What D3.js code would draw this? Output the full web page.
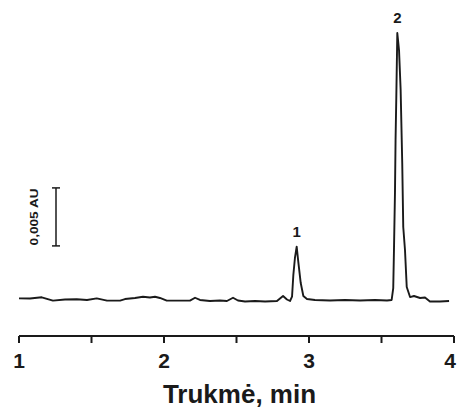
<!DOCTYPE html>
<html>
<head>
<meta charset="utf-8">
<script src="https://cdn.jsdelivr.net/npm/d3@7"></script>
<style>
  html, body { margin: 0; padding: 0; background: #fff; }
  svg { display: block; font-family: "Liberation Sans", Arial, sans-serif; }
</style>
</head>
<body>
<svg id="chart" width="458" height="412"></svg>
<script>
// Retention time (min) and detector response (mAU) of the chromatogram trace
const timeMin = [
  1.000, 1.076, 1.157, 1.234, 1.317, 1.398, 1.469, 1.536, 1.607, 1.697,
  1.731, 1.800, 1.855, 1.903, 1.938, 1.972, 2.019, 2.097, 2.179, 2.214,
  2.248, 2.317, 2.386, 2.434, 2.476, 2.510, 2.559, 2.628, 2.697, 2.779,
  2.821, 2.848, 2.869, 2.883, 2.892, 2.903, 2.915, 2.926, 2.943, 2.961,
  2.986, 3.041, 3.145, 3.248, 3.352, 3.455, 3.538, 3.570, 3.581, 3.586,
  3.593, 3.597, 3.602, 3.609, 3.621, 3.632, 3.643, 3.650, 3.662, 3.674,
  3.697, 3.724, 3.766, 3.800, 3.834, 3.903, 3.966
];
const absorbanceMAU = [
  0.23, 0.22, 0.32, 0.03, 0.13, 0.15, 0.09, 0.23, 0.03, 0.03,
  0.17, 0.26, 0.37, 0.30, 0.37, 0.26, 0.03, 0.03, 0.03, 0.28,
  0.09, 0.00, 0.04, 0.00, 0.28, 0.04, -0.04, 0.00, -0.04, 0.00,
  0.43, 0.13, 0.00, 0.37, 2.24, 3.71, 4.68, 3.39, 1.55, 0.43,
  0.17, 0.09, 0.04, 0.09, 0.04, 0.09, 0.04, 0.09, 1.12, 4.40,
  9.40, 13.9, 17.5, 23.1, 21.6, 18.2, 11.9, 6.38, 4.40, 1.21,
  0.34, 0.43, 0.26, 0.30, -0.04, -0.04, 0.00
];

// Numbered peaks
const peakLabels = ["1", "2"];
const peakTimes = [2.915, 3.609];
const peakHeights = [4.68, 23.1];

// Axis ticks
const majorTicks = [1, 2, 3, 4];
const minorTicks = [1.5, 2.5, 3.5];

// Vertical scale bar (mAU)
const scaleBarRange = [4.75, 9.75];
const scaleBarLabel = "0,005 AU";
const xTitle = "Trukmė, min";

const svg = d3.select("#chart");
const ink = "#1a1a1a";
const width = 458;

const x = d3.scaleLinear().domain([1, 4]).range([19, 454]);
const y = d3.scaleLinear().domain([0, 25]).range([301, 11]);

// Trace
const line = d3.line()
  .x((d, i) => x(timeMin[i]))
  .y(d => y(d));

svg.append("path")
  .datum(absorbanceMAU)
  .attr("d", line)
  .attr("fill", "none")
  .attr("stroke", ink)
  .attr("stroke-width", 1.9)
  .attr("stroke-linejoin", "round");

// Peak numbers
svg.selectAll("text.peak")
  .data(peakLabels)
  .join("text")
  .attr("class", "peak")
  .attr("x", (d, i) => x(peakTimes[i]))
  .attr("y", (d, i) => y(peakHeights[i]) - 10)
  .attr("text-anchor", "middle")
  .attr("font-size", 15)
  .attr("font-weight", "bold")
  .attr("fill", ink)
  .text(d => d);

// Time axis
const axisY = 336;
const axis = svg.append("g").attr("transform", `translate(0,${axisY})`);
axis.append("line")
  .attr("x1", x(1)).attr("x2", x(4))
  .attr("stroke", ink).attr("stroke-width", 2);

axis.selectAll("line.tick")
  .data(majorTicks.concat(minorTicks))
  .join("line")
  .attr("class", "tick")
  .attr("x1", d => x(d)).attr("x2", d => x(d))
  .attr("y1", 0).attr("y2", 7)
  .attr("stroke", ink).attr("stroke-width", 2);

// Tick labels, the last one kept inside the right edge
axis.selectAll("text.tl")
  .data(majorTicks)
  .join("text")
  .attr("class", "tl")
  .attr("x", d => Math.min(x(d), width - 8))
  .attr("y", 32)
  .attr("text-anchor", "middle")
  .attr("font-size", 21)
  .attr("font-weight", "bold")
  .attr("fill", ink)
  .text(d => d);

svg.append("text")
  .attr("x", (x(1) + x(4)) / 2 + 3)
  .attr("y", 403)
  .attr("text-anchor", "middle")
  .attr("font-size", 26)
  .attr("font-weight", "bold")
  .attr("fill", ink)
  .text(xTitle);

// Scale bar
const barX = 56;
const bar = svg.append("g");
bar.append("line")
  .attr("x1", barX).attr("x2", barX)
  .attr("y1", y(scaleBarRange[0])).attr("y2", y(scaleBarRange[1]))
  .attr("stroke", ink).attr("stroke-width", 1.5);
bar.selectAll("line.cap")
  .data(scaleBarRange)
  .join("line")
  .attr("class", "cap")
  .attr("x1", barX - 4).attr("x2", barX + 4)
  .attr("y1", d => y(d)).attr("y2", d => y(d))
  .attr("stroke", ink).attr("stroke-width", 1.5);

const midY = (y(scaleBarRange[0]) + y(scaleBarRange[1])) / 2;
bar.append("text")
  .attr("transform", `translate(38,${midY}) rotate(-90)`)
  .attr("text-anchor", "middle")
  .attr("font-size", 11)
  .attr("font-weight", "bold")
  .attr("fill", ink)
  .attr("textLength", 57)
  .attr("lengthAdjust", "spacingAndGlyphs")
  .text(scaleBarLabel);
</script>
</body>
</html>
